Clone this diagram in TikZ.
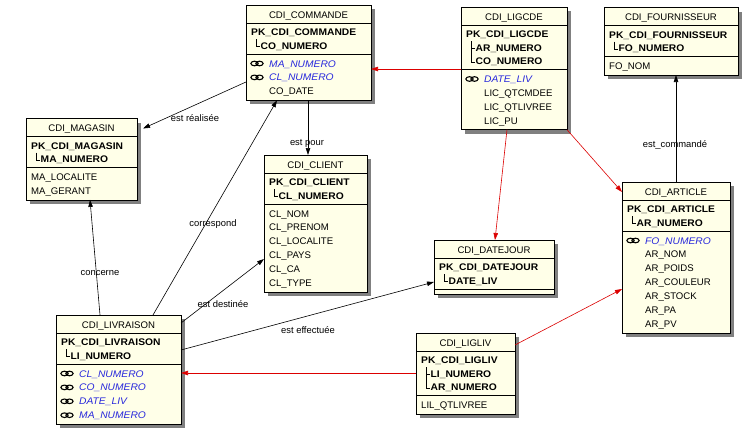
\documentclass[tikz,border=0pt]{standalone}
\usepackage{fontspec}
\setmainfont{Liberation Sans}
\newfontfamily\pkfont{Liberation Sans}[FakeStretch=1.07]
\usetikzlibrary{shadows,calc,arrows.meta}
\definecolor{boxfill}{RGB}{255,255,232}
\definecolor{shadowgray}{RGB}{128,128,128}
\definecolor{fkblue}{RGB}{40,40,220}
\definecolor{relred}{RGB}{220,0,0}
\tikzset{
 tbl/.style={draw=black, line width=0.8pt, fill=boxfill, rectangle, inner sep=0pt, outer sep=0pt, anchor=north west,
   drop shadow={shadow xshift=4pt, shadow yshift=-4pt, fill=shadowgray, opacity=1}},
 ttltxt/.style={font=\fontsize{9.6}{10}\selectfont, anchor=base, inner sep=0pt},
 pktxt/.style={font=\fontsize{9.6}{10}\selectfont\pkfont\bfseries, anchor=base west, inner sep=0pt},
 attxt/.style={font=\fontsize{9.6}{10}\selectfont, anchor=base west, inner sep=0pt},
 fktxt/.style={font=\fontsize{9.6}{10}\selectfont\pkfont\itshape, text=fkblue, anchor=base west, inner sep=0pt},
 sepline/.style={line width=0.8pt},
 treeline/.style={line width=0.6pt},
 fkicon/.style={line width=1.1pt},
 lnk/.style={line width=0.6pt, -{Triangle[length=7pt,width=4.5pt]}},
 rlnk/.style={lnk, color=relred},
 lbl/.style={font=\fontsize{9.4}{10}\selectfont, inner sep=0pt},
}
\newcommand\tabframe[6]{%
 \def\L{#2}\def\T{#3}\def\W{#4}\def\S{#6}%
 \node[tbl, minimum width=#4pt, minimum height=#5pt] (#1) at (#2,#3) {};
 \draw[sepline] ({#2},{#3+18}) -- ({#2+#4},{#3+18});
 \draw[sepline] ({#2},{#6}) -- ({#2+#4},{#6});
}
\newcommand\ttl[2]{\node[ttltxt] (#1) at ({\L+\W/2},{\T+13}) {#2};}
\newcommand\pk[2]{\node[pktxt] (#1) at ({\L+5},{\T+30.5}) {#2};}
\newcommand\key[3]{\node[pktxt] (#1) at ({\L+14.5},{\T+30.5+13.5*#2}) {#3};}
\newcommand\tree[1]{%
 \draw[treeline] ({\L+10},{\T+34}) -- ({\L+10},{\T+28+13.5*#1});
 \foreach \k in {1,...,#1}{\draw[treeline] ({\L+10},{\T+28+13.5*\k}) -- ({\L+14},{\T+28+13.5*\k});}
}
\newcommand\att[3]{\node[attxt] (#1) at ({\L+\AX},{\S+13+13.9*#2}) {#3};}
\newcommand\fk[3]{%
 \draw[fkicon] ({\L+8.5},{\S+9.5+13.9*#2}) ellipse (3.6pt and 2.3pt) ({\L+13.5},{\S+9.5+13.9*#2}) ellipse (3.6pt and 2.3pt);
 \node[fktxt] (#1) at ({\L+23},{\S+13+13.9*#2}) {#3};}
\begin{document}
\begin{tikzpicture}[x=1pt,y=-1pt]
\fill[white] (0,0) rectangle (745,431);
\useasboundingbox (0,0) rectangle (745,431);

% CDI_COMMANDE
\tabframe{com}{246}{5}{125}{95.3}{54}
\ttl{comT}{CDI\_COMMANDE}
\pk{comP}{PK\_CDI\_COMMANDE}
\key{comK1}{1}{CO\_NUMERO}
\tree{1}
\def\AX{23}
\fk{comA0}{0}{MA\_NUMERO}
\fk{comA1}{1}{CL\_NUMERO}
\att{comA2}{2}{CO\_DATE}

% CDI_LIGCDE
\tabframe{lig}{461}{7}{106}{122.7}{69.5}
\ttl{ligT}{CDI\_LIGCDE}
\pk{ligP}{PK\_CDI\_LIGCDE}
\key{ligK1}{1}{AR\_NUMERO}
\key{ligK2}{2}{CO\_NUMERO}
\tree{2}
\def\AX{23}
\fk{ligA0}{0}{DATE\_LIV}
\att{ligA1}{1}{LIC\_QTCMDEE}
\att{ligA2}{2}{LIC\_QTLIVREE}
\att{ligA3}{3}{LIC\_PU}

% CDI_FOURNISSEUR
\tabframe{four}{604}{7.5}{134}{67.5}{56.5}
\ttl{fourT}{CDI\_FOURNISSEUR}
\pk{fourP}{PK\_CDI\_FOURNISSEUR}
\key{fourK1}{1}{FO\_NUMERO}
\tree{1}
\def\AX{5}
\att{fourA0}{0}{FO\_NOM}

% CDI_MAGASIN
\tabframe{mag}{26}{118.5}{111}{81.4}{167.5}
\ttl{magT}{CDI\_MAGASIN}
\pk{magP}{PK\_CDI\_MAGASIN}
\key{magK1}{1}{MA\_NUMERO}
\tree{1}
\def\AX{5}
\att{magA0}{0}{MA\_LOCALITE}
\att{magA1}{1}{MA\_GERANT}

% CDI_CLIENT
\tabframe{cli}{264}{155}{103}{137}{204}
\ttl{cliT}{CDI\_CLIENT}
\pk{cliP}{PK\_CDI\_CLIENT}
\key{cliK1}{1}{CL\_NUMERO}
\tree{1}
\def\AX{5}
\att{cliA0}{0}{CL\_NOM}
\att{cliA1}{1}{CL\_PRENOM}
\att{cliA2}{2}{CL\_LOCALITE}
\att{cliA3}{3}{CL\_PAYS}
\att{cliA4}{4}{CL\_CA}
\att{cliA5}{5}{CL\_TYPE}

% CDI_ARTICLE
\tabframe{art}{622}{182}{108}{150.9}{231}
\ttl{artT}{CDI\_ARTICLE}
\pk{artP}{PK\_CDI\_ARTICLE}
\key{artK1}{1}{AR\_NUMERO}
\tree{1}
\def\AX{23}
\fk{artA0}{0}{FO\_NUMERO}
\att{artA1}{1}{AR\_NOM}
\att{artA2}{2}{AR\_POIDS}
\att{artA3}{3}{AR\_COULEUR}
\att{artA4}{4}{AR\_STOCK}
\att{artA5}{5}{AR\_PA}
\att{artA6}{6}{AR\_PV}

% CDI_DATEJOUR
\tabframe{dj}{434}{240}{120}{54}{289}
\ttl{djT}{CDI\_DATEJOUR}
\pk{djP}{PK\_CDI\_DATEJOUR}
\key{djK1}{1}{DATE\_LIV}
\tree{1}

% CDI_LIVRAISON
\tabframe{liv}{56}{315}{125}{109.2}{364}
\ttl{livT}{CDI\_LIVRAISON}
\pk{livP}{PK\_CDI\_LIVRAISON}
\key{livK1}{1}{LI\_NUMERO}
\tree{1}
\fk{livA0}{0}{CL\_NUMERO}
\fk{livA1}{1}{CO\_NUMERO}
\fk{livA2}{2}{DATE\_LIV}
\fk{livA3}{3}{MA\_NUMERO}

% CDI_LIGLIV
\tabframe{ll}{416}{333}{99}{81}{395.5}
\ttl{llT}{CDI\_LIGLIV}
\pk{llP}{PK\_CDI\_LIGLIV}
\key{llK1}{1}{LI\_NUMERO}
\key{llK2}{2}{AR\_NUMERO}
\tree{2}
\def\AX{5}
\att{llA0}{0}{LIL\_QTLIVREE}

% connectors
\draw[rlnk] ($(lig.north west)+(0,62)$) -- ($(com.north east)+(0,64)$);
\draw[rlnk] ($(lig.south west)+(46,0)$) -- ($(dj.north west)+(61,0)$);
\draw[rlnk] (lig.south east) -- ($(art.north west)+(0,10)$);
\draw[lnk] ($(art.north west)+(54,0)$) -- ($(four.south west)+(72,0)$);
\draw[rlnk] ($(ll.north east)+(0,12)$) -- ($(art.north west)+(0,107)$);
\draw[rlnk] ($(ll.north west)+(0,40)$) -- ($(liv.north east)+(0,58)$);
\draw[lnk] ($(liv.north east)+(0,35)$) -- ($(dj.north west)+(0,42)$);
\draw[lnk] ($(liv.north east)+(0,8)$) -- ($(cli.north west)+(0,104)$);
\draw[lnk] ($(liv.north west)+(97,0)$) -- ($(com.south west)+(31,0)$);
\draw[lnk] ($(liv.north west)+(44,0)$) -- ($(mag.south west)+(64,0)$);
\draw[lnk] ($(com.north west)+(0,77)$) -- ($(mag.north east)+(6,10)$);
\draw[lnk] ($(com.south west)+(62,0)$) -- ($(cli.north west)+(44,0)$);

% labels
\node[lbl] (l1) at (195,118) {est réalisée};
\node[lbl] (l2) at (307,143) {est pour};
\node[lbl] (l3) at (213,224) {correspond};
\node[lbl] (l4) at (100,273) {concerne};
\node[lbl] (l5) at (223,304) {est destinée};
\node[lbl] (l6) at (308,330) {est effectuée};
\node[lbl] (l7) at (675,145) {est\_commandé};
\end{tikzpicture}
\end{document}
